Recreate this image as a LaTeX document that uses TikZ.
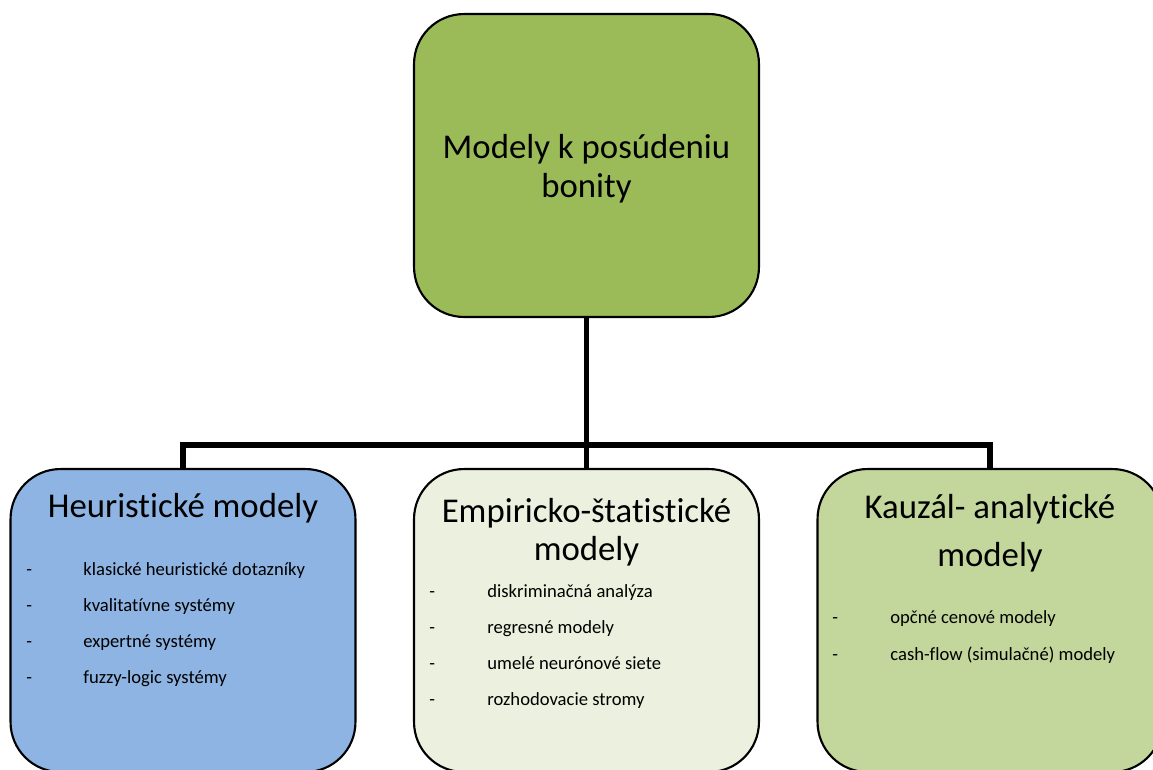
\documentclass[tikz,border=0pt]{standalone}
\usepackage{fontspec}
\setmainfont[Ligatures={NoCommon}, Contextuals={NoAlternate}]{Carlito}
\definecolor{rootgreen}{HTML}{9BBB59}
\definecolor{heurblue}{HTML}{8EB4E3}
\definecolor{empgreen}{HTML}{EBF1DE}
\definecolor{kauzgreen}{HTML}{C3D69B}
\tikzset{
  modelbox/.style={draw=black, line width=1.2pt, rounded corners=1cm,
    minimum width=6.9cm, minimum height=6.06cm, inner sep=0pt},
  conn/.style={draw=black, line width=3.1pt, line join=miter},
  title/.style={anchor=base, inner sep=0pt, font=\fontsize{19.8}{22}\selectfont},
  item/.style={anchor=base west, inner sep=0pt, font=\fontsize{10.6}{12}\selectfont},
}
\begin{document}
\begin{tikzpicture}[x=0.02cm, y=-0.02cm]
\useasboundingbox (0,0) rectangle (1153,769);
\begin{scope}
\clip (0,0) rectangle (1153,769);

% boxes
\node[modelbox, fill=rootgreen] (top) at (586.5,165.5) {};
\node[modelbox, fill=heurblue]  (hl)  at (183,620.5) {};
\node[modelbox, fill=empgreen]  (hm)  at (586.5,620.5) {};
\node[modelbox, fill=kauzgreen] (hr)  at (990,620.5) {};

% connectors
\coordinate (bus) at (586.5,445);
\draw[conn] (top.south) -- (hm.north);
\draw[conn] (hl.north) |- (bus) -| (hr.north);

% root text
\node[title] (t1) at (586.5,158) {Modely k posúdeniu};
\node[title] (t2) at (586.5,197) {bonity};

% heuristic models
\node[title] (hlt) at (183,517) {Heuristické modely};
\foreach \y/\txt [count=\i] in {575/klasické heuristické dotazníky,
    611/kvalitatívne systémy, 647/expertné systémy, 683/fuzzy-logic systémy}{
  \node[item] (hld\i) at (26,\y) {-};
  \node[item] (hli\i) at (83,\y) {\txt};
}

% empirical-statistical models
\node[title] (hmt1) at (586.5,522) {Empiricko-štatistické};
\node[title] (hmt2) at (586.5,560) {modely};
\foreach \y/\txt [count=\i] in {597/diskriminačná analýza,
    633/regresné modely, 669/umelé neurónové siete, 705/rozhodovacie stromy}{
  \node[item] (hmd\i) at (429,\y) {-};
  \node[item] (hmi\i) at (487,\y) {\txt};
}

% causal-analytic models
\node[title] (hrt1) at (990,518) {Kauzál- analytické};
\node[title] (hrt2) at (990,566) {modely};
\foreach \y/\txt [count=\i] in {623/opčné cenové modely,
    660/cash-flow (simulačné) modely}{
  \node[item] (hrd\i) at (832,\y) {-};
  \node[item] (hri\i) at (890,\y) {\txt};
}
\end{scope}
\end{tikzpicture}
\end{document}
